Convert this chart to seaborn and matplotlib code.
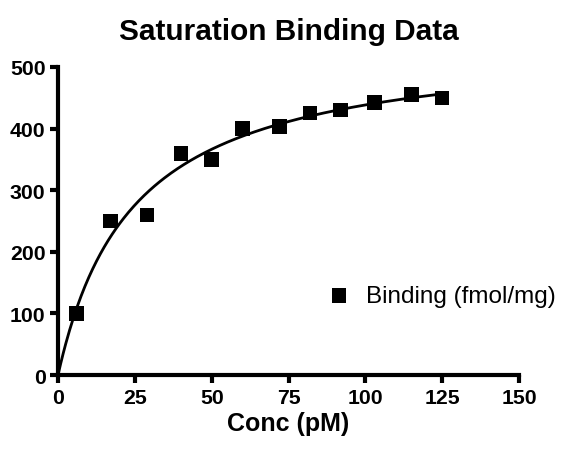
import numpy as np
import pandas as pd
import matplotlib
matplotlib.use("Agg")
import matplotlib.pyplot as plt
import seaborn as sns

conc = [6, 17, 29, 40, 50, 60, 72, 82, 92, 103, 115, 125]
binding = [100, 250, 260, 360, 350, 400, 403, 425, 430, 442, 455, 450]
x_ticks = [0, 25, 50, 75, 100, 125, 150]
y_ticks = [0, 100, 200, 300, 400, 500]

sns.set_theme(style="ticks")
plt.rcParams['font.family'] = ['Liberation Sans', 'DejaVu Sans']
plt.rcParams.update({"text.color": "black", "axes.labelcolor": "black",
                     "xtick.color": "black", "ytick.color": "black"})

# one-site binding fit (least squares) of the data
xa = np.array(conc, float); ya = np.array(binding, float)
best = None
for kd in np.linspace(1, 100, 2000):
    f = xa / (kd + xa)
    bmax = (f @ ya) / (f @ f)
    err = np.sum((ya - bmax * f) ** 2)
    if best is None or err < best[0]:
        best = (err, kd, bmax)
_, kd, bmax = best
xc = np.linspace(0, max(conc), 300)
fit = pd.DataFrame({"x": xc, "y": bmax * xc / (kd + xc)})
df = pd.DataFrame({"Conc": conc, "Binding (fmol/mg)": binding})

fig = plt.figure(figsize=(5.65, 4.52), dpi=100)
ax = fig.add_axes([0.1027, 0.168, 0.8159, 0.6816])
sns.lineplot(data=fit, x="x", y="y", ax=ax, color="black", lw=2, legend=False)
sns.scatterplot(data=df, x="Conc", y="Binding (fmol/mg)", ax=ax, marker="s",
                s=110, color="black", edgecolor="none", label="Binding (fmol/mg)",
                clip_on=False, zorder=5)

ax.set_xlim(0, 150)
ax.set_ylim(0, 500)
ax.set_xticks(x_ticks)
ax.set_yticks(y_ticks)
ax.set_xticklabels([str(t) for t in x_ticks], fontsize=15.3, fontweight="bold", color="black")
ax.set_yticklabels([str(t) for t in y_ticks], fontsize=15.3, fontweight="bold", color="black")
for s in ["top", "right"]:
    ax.spines[s].set_visible(False)
for s in ["left", "bottom"]:
    ax.spines[s].set_linewidth(3)
    ax.spines[s].set_color("black")
ax.tick_params(axis="both", width=3, length=6, color="black", pad=3)
ax.set_xlabel("Conc (pM)", fontsize=18, fontweight="bold", labelpad=3, color="black")
ax.set_ylabel("")
ax.set_title("Saturation Binding Data", fontsize=21.4, fontweight="bold", pad=20, color="black")

leg = ax.legend(loc="center left", bbox_to_anchor=(0.54, 0.343),
                bbox_transform=fig.transFigure, frameon=False, fontsize=17.5,
                handletextpad=0.12, markerscale=1.0, borderaxespad=0)
for t in leg.get_texts():
    t.set_color("black")
fig.savefig("out.png", dpi=100)
